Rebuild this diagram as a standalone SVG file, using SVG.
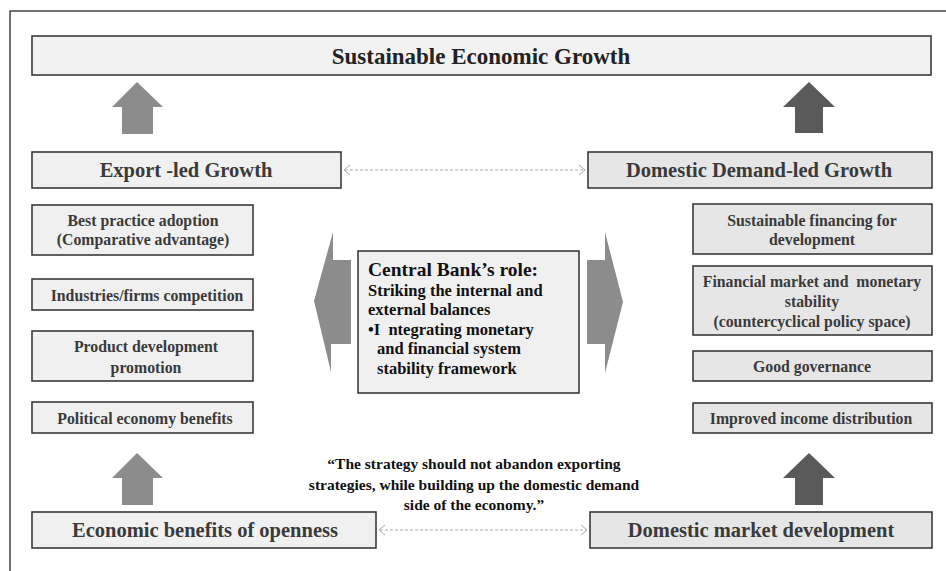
<svg xmlns="http://www.w3.org/2000/svg" width="946" height="571" viewBox="0 0 946 571">
<style>
  .frame { fill: none; stroke: #444; stroke-width: 1.5; }
  .boxL { fill: #f0f0f0; stroke: #3a3a3a; stroke-width: 1.6; }
  .boxR { fill: #e6e6e6; stroke: #3a3a3a; stroke-width: 1.6; }
  .boxC { fill: #f0f0f0; stroke: #222; stroke-width: 1.4; }
  text { font-family: "Liberation Serif", "Times New Roman", serif; font-weight: bold; text-anchor: middle; }
  .t1 { font-size: 23px; fill: #222; }
  .t2 { font-size: 20.5px; fill: #3a3a3a; }
  .t3 { font-size: 15.8px; fill: #3a3a3a; }
  .tc { font-size: 16.5px; fill: #111; text-anchor: start; }
  .tq { font-size: 15.5px; fill: #111; }
  .arL { fill: #8c8c8c; }
  .arR { fill: #5a5a5a; }
  .dash { stroke: #aaa; stroke-width: 1; stroke-dasharray: 3 2; fill: none; }
  .chev { stroke: #aaa; stroke-width: 1; fill: none; }
</style>

<path class="frame" d="M10 571 V11 H946"/>

<g id="sustainable-growth">
  <rect class="boxL" x="32" y="36" width="899" height="39" style="fill:#f2f2f2"/>
  <text class="t1" x="481" y="64">Sustainable Economic Growth</text>
</g>

<g id="export-led">
  <rect class="boxL" x="32" y="152" width="309" height="36"/>
  <text class="t2" x="186" y="177">Export -led Growth</text>
</g>

<g id="domestic-demand-led">
  <rect class="boxR" x="588" y="152" width="344" height="36"/>
  <text class="t2" x="759" y="177">Domestic Demand-led Growth</text>
</g>

<g id="best-practice">
  <rect class="boxL" x="32" y="205" width="221" height="50"/>
  <text class="t3" x="143" y="226">Best practice adoption</text>
  <text class="t3" x="143" y="245">(Comparative advantage)</text>
</g>

<g id="industries">
  <rect class="boxL" x="32" y="279" width="221" height="31"/>
  <text class="t3" x="147" y="301">Industries/firms competition</text>
</g>

<g id="product-dev">
  <rect class="boxL" x="32" y="331" width="221" height="50"/>
  <text class="t3" x="146" y="352">Product development</text>
  <text class="t3" x="146" y="373">promotion</text>
</g>

<g id="political-economy">
  <rect class="boxL" x="32" y="402" width="221" height="31"/>
  <text class="t3" x="145" y="424">Political economy benefits</text>
</g>

<g id="sustainable-financing">
  <rect class="boxR" x="693" y="204" width="239" height="50"/>
  <text class="t3" x="812" y="226">Sustainable financing for</text>
  <text class="t3" x="812" y="245">development</text>
</g>

<g id="financial-market">
  <rect class="boxR" x="693" y="266" width="239" height="69"/>
  <text class="t3" x="812" y="287" xml:space="preserve">Financial market and  monetary</text>
  <text class="t3" x="812" y="307">stability</text>
  <text class="t3" x="812" y="327">(countercyclical policy space)</text>
</g>

<g id="good-governance">
  <rect class="boxR" x="693" y="351" width="239" height="30"/>
  <text class="t3" x="812" y="372">Good governance</text>
</g>

<g id="income-distribution">
  <rect class="boxR" x="693" y="403" width="239" height="30"/>
  <text class="t3" x="811" y="424">Improved income distribution</text>
</g>

<g id="central-bank">
  <rect class="boxC" x="358" y="251" width="221" height="142"/>
  <text class="tc" x="368" y="276" style="font-size:19.5px">Central Bank’s role:</text>
  <text class="tc" x="368" y="296">Striking the internal and</text>
  <text class="tc" x="368" y="315">external balances</text>
  <text class="tc" x="368" y="335" xml:space="preserve">•I  ntegrating monetary</text>
  <text class="tc" x="377" y="354">and financial system</text>
  <text class="tc" x="377" y="374">stability framework</text>
</g>

<g id="quote">
  <text class="tq" x="474" y="469">“The strategy should not abandon exporting</text>
  <text class="tq" x="474" y="490">strategies, while building up the domestic demand</text>
  <text class="tq" x="474" y="510">side of the economy.”</text>
</g>

<g id="openness">
  <rect class="boxL" x="32" y="512" width="344" height="36"/>
  <text class="t2" x="205" y="537">Economic benefits of openness</text>
</g>

<g id="domestic-market">
  <rect class="boxR" x="590" y="512" width="342" height="36"/>
  <text class="t2" x="761" y="537">Domestic market development</text>
</g>

<g id="connectors">
  <polygon class="arL" points="137,82 163,107 153,107 153,134 122,134 122,107 112,107"/>
  <polygon class="arR" points="809,82 835,107 823,107 823,133 795,133 795,107 783,107"/>
  <polygon class="arL" points="137,453 163,478 153,478 153,505 122,505 122,478 112,478"/>
  <polygon class="arR" points="809,453 835,478 823,478 823,505 795,505 795,478 783,478"/>
  <polygon class="arL" points="351,260 333,260 333,232 314,301 331,372 331,344 351,344"/>
  <polygon class="arL" points="587,260 605,260 605,232 623,302 605,373 605,344 587,344"/>
  <line class="dash" x1="345" y1="170" x2="584" y2="170"/>
  <polyline class="chev" points="350,165 344,170 350,175"/>
  <polyline class="chev" points="579,165 585,170 579,175"/>
  <line class="dash" x1="380" y1="530" x2="586" y2="530"/>
  <polyline class="chev" points="385,525 379,530 385,535"/>
  <polyline class="chev" points="581,525 587,530 581,535"/>
</g>
</svg>
